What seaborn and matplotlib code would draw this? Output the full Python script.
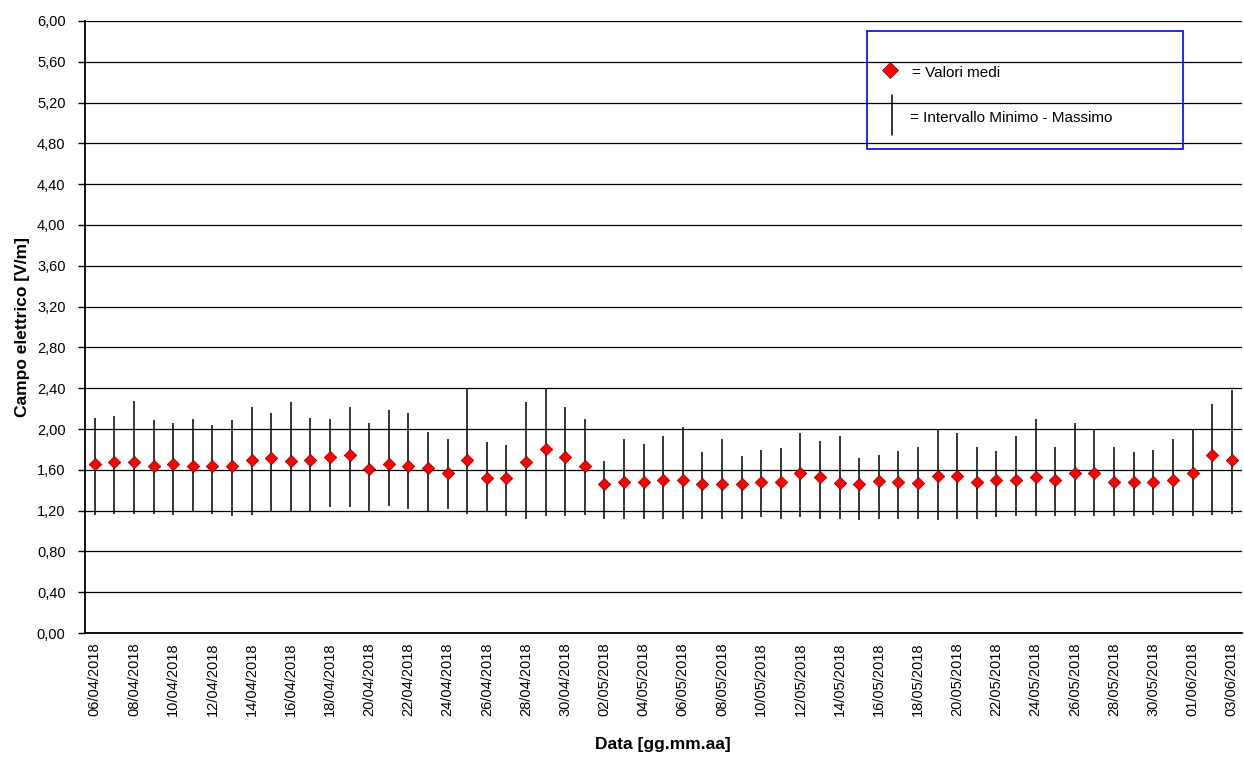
import numpy as np
import pandas as pd
import matplotlib
matplotlib.use('Agg')
import matplotlib.pyplot as plt
from matplotlib.patches import Rectangle
from matplotlib.lines import Line2D
from matplotlib.ticker import FixedLocator, FuncFormatter
import seaborn as sns

# --- Data ---
dates = pd.date_range('2018-04-06', '2018-06-03', freq='D')
date_labels = [d.strftime('%d/%m/%Y') for d in dates]

valori_medi = [
    1.66, 1.68, 1.68, 1.64, 1.66, 1.64, 1.64, 1.64, 1.70, 1.72, 1.69, 1.70, 1.73, 1.75, 1.61,
    1.66, 1.64, 1.62, 1.57, 1.70, 1.52, 1.52, 1.68, 1.80, 1.73, 1.64, 1.46, 1.48, 1.48, 1.50,
    1.50, 1.46, 1.46, 1.46, 1.48, 1.48, 1.57, 1.53, 1.47, 1.46, 1.49, 1.48, 1.47, 1.54,
    1.54, 1.48, 1.50, 1.50, 1.53, 1.50, 1.57, 1.57, 1.48, 1.48, 1.48, 1.50, 1.57, 1.75, 1.70,
]
valori_max = [
    2.11, 2.13, 2.27, 2.09, 2.06, 2.10, 2.04, 2.09, 2.22, 2.16, 2.26, 2.11, 2.10, 2.22, 2.06,
    2.19, 2.16, 1.97, 1.90, 2.39, 1.87, 1.84, 2.26, 2.40, 2.22, 2.10, 1.69, 1.90, 1.85, 1.93,
    2.02, 1.77, 1.90, 1.74, 1.79, 1.81, 1.96, 1.88, 1.93, 1.72, 1.75, 1.78, 1.82, 2.00,
    1.96, 1.82, 1.78, 1.93, 2.10, 1.82, 2.06, 2.00, 1.82, 1.77, 1.79, 1.90, 2.00, 2.25, 2.38,
]
valori_min = [
    1.16, 1.17, 1.17, 1.17, 1.16, 1.19, 1.17, 1.15, 1.16, 1.19, 1.19, 1.19, 1.24, 1.24, 1.19,
    1.25, 1.22, 1.20, 1.22, 1.17, 1.20, 1.15, 1.12, 1.15, 1.15, 1.16, 1.12, 1.12, 1.12, 1.12,
    1.12, 1.12, 1.12, 1.12, 1.14, 1.12, 1.14, 1.12, 1.12, 1.11, 1.12, 1.12, 1.12, 1.11,
    1.12, 1.12, 1.14, 1.15, 1.15, 1.15, 1.15, 1.15, 1.15, 1.15, 1.16, 1.15, 1.15, 1.16, 1.17,
]

df = pd.DataFrame({'data': date_labels, 'medio': valori_medi,
                   'minimo': valori_min, 'massimo': valori_max})
df['pos'] = np.arange(len(df))

# --- Style ---
sns.set_style('white')
plt.rcParams['font.family'] = ['Liberation Sans', 'DejaVu Sans']
plt.rcParams.update({'text.color': 'black', 'axes.labelcolor': 'black',
                     'xtick.color': 'black', 'ytick.color': 'black'})

fig = plt.figure(figsize=(12.44, 7.58), dpi=100)
ax = fig.add_axes([0.0683, 0.1649, 0.9297, 0.8074])

# min-max ranges
ax.vlines(df['pos'], df['minimo'], df['massimo'], color='black', linewidth=1.1, zorder=3)
# mean values
sns.scatterplot(data=df, x='pos', y='medio', marker='D', s=40, color='#ff0000',
                edgecolor='#7a0000', linewidth=0.5, zorder=4, ax=ax, legend=False)

ax.set_xlim(-0.5, len(df) - 0.5)
ax.set_ylim(0, 6)
yt = np.arange(0, 6.01, 0.4)
ax.set_yticks(yt)
ax.yaxis.set_major_formatter(FuncFormatter(lambda v, p: f'{v:.2f}'.replace('.', ',')))
ax.yaxis.grid(True, color='black', linewidth=0.9)
ax.set_axisbelow(True)

# labels every two days at category centres, tick marks at category boundaries
ax.set_xticks(df['pos'][::2])
ax.set_xticklabels(df['data'][::2], rotation=90)
ax.xaxis.set_minor_locator(FixedLocator(np.arange(-0.5, len(df) - 1, 2)))
ax.tick_params(axis='x', which='major', length=0, pad=7, labelsize=10.5)
ax.tick_params(axis='x', which='minor', direction='inout', length=9, width=1, color='black')
ax.tick_params(axis='y', which='major', direction='out', length=5, width=1, color='black',
               pad=9, labelsize=10.5, left=True)

for side in ['top', 'right']:
    ax.spines[side].set_visible(False)
for side in ['left', 'bottom']:
    ax.spines[side].set_color('black')
    ax.spines[side].set_linewidth(1.3)

ax.set_xlabel('Data [gg.mm.aa]', fontsize=12.5, fontweight='bold', labelpad=15)
ax.set_ylabel('Campo elettrico [V/m]', fontsize=12.5, fontweight='bold', labelpad=5)

# --- Legend box ---
fig.patches.append(Rectangle((0.697, 0.8034), 0.254, 0.1557, transform=fig.transFigure,
                             fill=False, edgecolor='#0000ff', linewidth=1.2, zorder=10))
fig.add_artist(Line2D([0.7154], [0.9077], marker='D', markersize=8, color='#ff0000',
                      markeredgecolor='#7a0000', markeredgewidth=0.5,
                      transform=fig.transFigure))
fig.add_artist(Line2D([0.717, 0.717], [0.822, 0.8747], color='black', linewidth=1.1,
                      transform=fig.transFigure))
fig.text(0.733, 0.9037, '= Valori medi', fontsize=11, va='center', ha='left')
fig.text(0.7315, 0.8443, '= Intervallo Minimo - Massimo', fontsize=11, va='center', ha='left')

fig.savefig('out.png', dpi=100)
